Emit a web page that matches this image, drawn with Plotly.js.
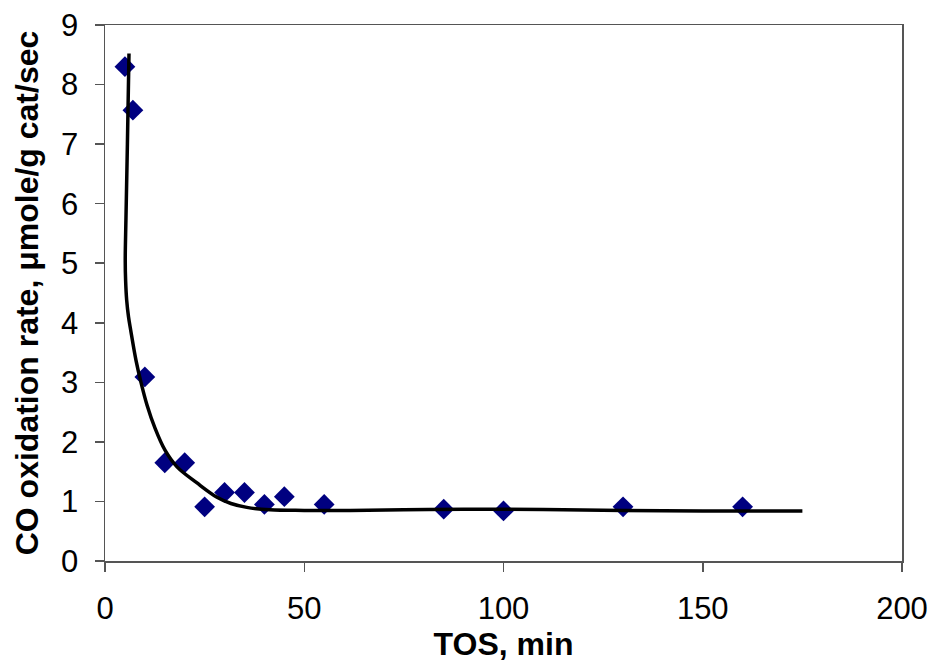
<!DOCTYPE html>
<html>
<head>
<meta charset="utf-8">
<script src="https://cdn.plot.ly/plotly-3.0.1.min.js"></script>
<style>html,body{margin:0;padding:0;background:#fff;}#chart{width:935px;height:662px;}</style>
</head>
<body>
<div id="chart"></div>
<script>
// Measured data (diamonds)
const tosMin = [5, 7, 10, 15, 20, 25, 30, 35, 40, 45, 55, 85, 100, 130, 160];
const coRate = [8.30, 7.57, 3.09, 1.65, 1.65, 0.91, 1.15, 1.15, 0.95, 1.08, 0.95, 0.87, 0.84, 0.91, 0.91];

// Fitted trend curve
const fitX = [6.02, 5.62, 5.25, 5.08, 5.18, 5.44, 5.9, 6.44, 7.78, 9.03, 10.54, 12.55, 15.06, 18.07, 23.09, 28.1, 31.6, 35.6, 41.4, 50, 61.5, 75, 90, 100, 115, 130, 150, 175];
const fitY = [8.52, 7.0, 5.72, 5.05, 4.70, 4.38, 4.10, 3.88, 3.37, 3.00, 2.62, 2.23, 1.86, 1.58, 1.31, 1.07, 0.965, 0.90, 0.86, 0.85, 0.85, 0.86, 0.87, 0.87, 0.86, 0.85, 0.84, 0.84];

const xTicks = [0, 50, 100, 150, 200];
const yTicks = [0, 1, 2, 3, 4, 5, 6, 7, 8, 9];

const traces = [
  {
    x: tosMin, y: coRate, type: 'scatter', mode: 'markers',
    marker: {symbol: 'diamond', size: 16, color: '#000080'},
    hoverinfo: 'x+y'
  },
  {
    x: fitX, y: fitY, type: 'scatter', mode: 'lines',
    line: {color: '#000000', width: 3.5, shape: 'spline', smoothing: 1},
    hoverinfo: 'skip'
  }
];

const axisFont = {family: '"Liberation Sans", Arial, sans-serif', size: 31, color: '#000'};
const titleFont = {family: '"Liberation Sans", Arial, sans-serif', size: 32, color: '#000', weight: 'bold'};

const layout = {
  width: 935, height: 662,
  margin: {l: 105, r: 33, t: 25, b: 101, pad: 0},
  paper_bgcolor: '#fff', plot_bgcolor: '#fff',
  showlegend: false,
  xaxis: {
    range: [0, 200], tickvals: xTicks, ticktext: xTicks.map(String),
    showgrid: false, zeroline: false,
    showline: true, mirror: true, linecolor: '#555', linewidth: 1.5,
    ticks: 'outside', ticklen: 9, tickwidth: 1.5, tickcolor: '#555',
    tickfont: axisFont, ticklabelstandoff: 10,
    title: {text: '<b>TOS, min</b>', font: titleFont, standoff: 0}
  },
  yaxis: {
    range: [0, 9], tickvals: yTicks, ticktext: yTicks.map(String),
    showgrid: false, zeroline: false,
    showline: true, mirror: true, linecolor: '#555', linewidth: 1.5,
    ticks: 'outside', ticklen: 9, tickwidth: 1.5, tickcolor: '#555',
    tickfont: axisFont, ticklabelstandoff: 10,
    title: {text: '<b>CO oxidation rate, μmole/g cat/sec</b>', font: titleFont, standoff: 13}
  }
};

Plotly.newPlot('chart', traces, layout, {staticPlot: true, displayModeBar: false});
</script>
</body>
</html>
